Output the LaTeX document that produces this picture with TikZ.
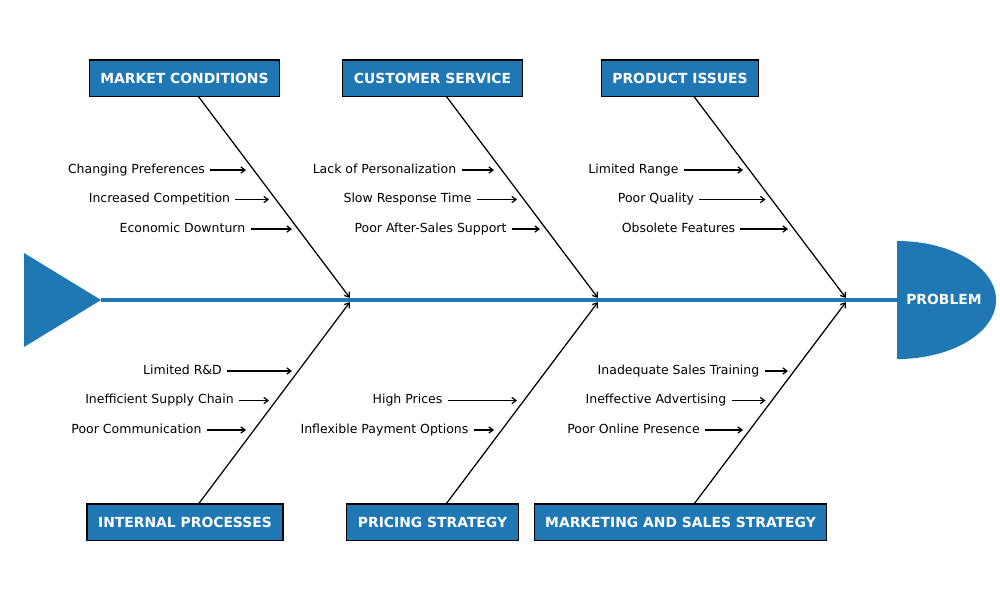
\documentclass[tikz,border=0pt]{standalone}
\usepackage{fontspec}
\setmainfont{DejaVu Sans}
\usetikzlibrary{arrows.meta}
\definecolor{fishblue}{RGB}{31,119,180}
\tikzset{%
  spine/.style = { draw=fishblue, line width=2.2pt },
  bone/.style = { draw=black, line width=0.9pt, -{Straight Barb[length=3pt,width=4.5pt]}, shorten >=2pt },
  cause/.style = { draw=black, fill=fishblue, text=white, line width=0.8pt, font=\fontsize{10}{12}\selectfont\bfseries, minimum height=26pt, inner xsep=8pt },
  item/.style = { font=\fontsize{9}{11}\selectfont, inner xsep=3.6pt, inner ysep=1pt, text height=6.8pt, text depth=2.1pt },
  itemarrow/.style = { draw=black, line width=0.9pt, -{Straight Barb[length=3pt,width=4.5pt]} },
  headlabel/.style = { text=white, font=\fontsize{10}{12}\selectfont\bfseries }
}

\begin{document}
\begin{tikzpicture}[x=0.72pt, y=-0.72pt]

  \useasboundingbox (0,0) rectangle (1000,600);

  % Spine
  \coordinate (tail) at (101,300);
  \coordinate (head) at (897,300);
  \draw[spine] (tail) -- (head);
  \fill[fishblue] (24,253) -- (tail) -- (24,347) -- cycle;
  \fill[fishblue] (897,241) arc[start angle=90, end angle=-90, x radius=71.3pt, y radius=42.5pt] -- cycle;
  \node[headlabel] (problem) at (944,299) {PROBLEM};

  % Junctions on the spine
  \coordinate (j1) at (351.5,300);
  \coordinate (j2) at (599.5,300);
  \coordinate (j3) at (847.5,300);

  % TOP categories
  \node[cause] (market)   at (184.5,78) {MARKET CONDITIONS};
  \node[cause] (customer) at (432.5,78) {CUSTOMER SERVICE};
  \node[cause] (product)  at (680,78)   {PRODUCT ISSUES};

  % BOTTOM categories
  \node[cause] (internal)  at (185,522)   {INTERNAL PROCESSES};
  \node[cause] (pricing)   at (432.5,522) {PRICING STRATEGY};
  \node[cause] (marketing) at (680.5,522) {MARKETING AND SALES STRATEGY};

  % Bones
  \draw[bone] (market) -- (j1);
  \draw[bone] (customer) -- (j2);
  \draw[bone] (product) -- (j3);
  \draw[bone] (internal) -- (j1);
  \draw[bone] (pricing) -- (j2);
  \draw[bone] (marketing) -- (j3);

  % Causes
  \foreach \txt/\tx/\ty [count=\i] in {
      Changing Preferences/246/170, Increased Competition/269/199.5, Economic Downturn/292/229,
      Lack of Personalization/494/170, Slow Response Time/517/199.5, Poor After-Sales Support/540/229,
      Limited Range/743/170, Poor Quality/765.5/199.5, Obsolete Features/788/229,
      Limited R\&D/292/371, Inefficient Supply Chain/269/400.5, Poor Communication/246/430,
      High Prices/517/400.5, Inflexible Payment Options/494/430,
      Inadequate Sales Training/788/371, Ineffective Advertising/765.5/400.5, Poor Online Presence/743/430} {
    \node[item] (item-\i) at (\tx-109.5,\ty) {\txt};
    \coordinate (tip-\i) at (\tx,\ty);
    \draw[itemarrow] (item-\i) -- (tip-\i);
  }

\end{tikzpicture}
\end{document}
